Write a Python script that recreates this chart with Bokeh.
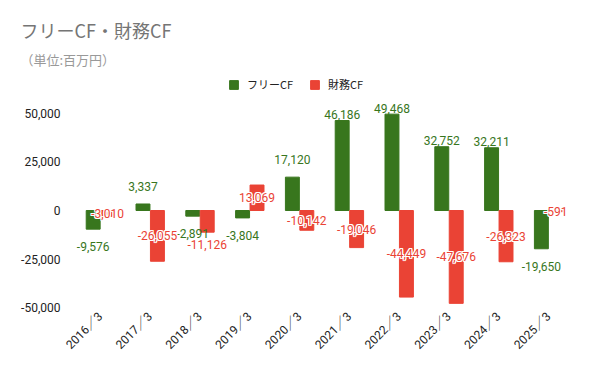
import math
from bokeh.plotting import figure
from bokeh.models import (ColumnDataSource, FixedTicker, NumeralTickFormatter, Title,
                          Legend, LegendItem, Range1d, FactorRange)
from bokeh.core.properties import value
from bokeh.transform import dodge
from bokeh.embed import file_html
from bokeh.resources import INLINE

years = ["2016／3", "2017／3", "2018／3", "2019／3", "2020／3",
         "2021／3", "2022／3", "2023／3", "2024／3", "2025／3"]
free_cf = [-9576, 3337, -2891, -3804, 17120, 46186, 49468, 32752, 32211, -19650]
fin_cf = [-3010, -26055, -11126, 13069, -10142, -19046, -44449, -47676, -26323, -591]
y_ticks = [-50000, -25000, 0, 25000, 50000]

GREEN = "#38761d"
RED = "#ea4335"
FONT_NUM = "Roboto"
FONT_JP = "'Noto Sans CJK JP'"

# plot frame (pixels) and matching value range: zero sits at y=210, 25,000 = 48.7px
W, H = 600, 371
FL, FR, FT, FB = 75, 573, 72, 310
PX_PER = 48.7 / 25000
Y_TOP, Y_BOT = (210 - FT) / PX_PER, -(FB - 210) / PX_PER

# label placement rules (data units)
def green_pos(v):
    if v >= 25000:
        return v + 3000
    return v + 9000 if v >= 0 else v - 9000

green_ly = [green_pos(v) for v in free_cf]
red_ly = []
for g, r in zip(green_ly, fin_cf):
    mid = r / 2
    if abs(g - mid) < 8000:          # would collide with the green label
        red_ly.append(r + (6500 if r >= 0 else -6500))
    else:
        red_ly.append(mid)

fmt = lambda v: f"{v:,}"
src = ColumnDataSource(dict(
    year=years, free=free_cf, fin=fin_cf,
    gly=green_ly, rly=red_ly,
    gtxt=[fmt(v) for v in free_cf], rtxt=[fmt(v) for v in fin_cf],
))

p = figure(x_range=FactorRange(*years), y_range=Range1d(Y_BOT, Y_TOP),
           width=W, height=H, output_backend="svg", toolbar_location=None,
           min_border_left=FL, min_border_right=W - FR, min_border_top=FT,
           min_border_bottom=H - FB)
p.outline_line_color = None
p.grid.visible = False

gbar = p.vbar(x=dodge("year", -0.145, range=p.x_range), top="free", bottom=0,
              width=0.28, color=GREEN, source=src)
rbar = p.vbar(x=dodge("year", 0.145, range=p.x_range), top="fin", bottom=0,
              width=0.28, color=RED, source=src)

p.text(x=dodge("year", -0.145, range=p.x_range), y="gly", text="gtxt", source=src,
       text_align="center", text_baseline="middle", text_color=GREEN,
       text_font=value(FONT_NUM), text_font_size="12px")
# white halo under red labels
for dx, dy in [(-1, -1), (0, -1), (1, -1), (-1, 0), (1, 0), (-1, 1), (0, 1), (1, 1)]:
    p.text(x=dodge("year", 0.145, range=p.x_range), y="rly", text="rtxt", source=src,
           text_align="center", text_baseline="middle", text_color="white",
           text_font=value(FONT_NUM), text_font_size="12px",
           x_offset=dx, y_offset=dy)
p.text(x=dodge("year", 0.145, range=p.x_range), y="rly", text="rtxt", source=src,
       text_align="center", text_baseline="middle", text_color=RED,
       text_font=value(FONT_NUM), text_font_size="12px")

# axes
yax = p.yaxis[0]
yax.ticker = FixedTicker(ticks=y_ticks)
yax.formatter = NumeralTickFormatter(format="0,0")
for ax in (p.xaxis[0], yax):
    ax.axis_line_color = None
    ax.major_tick_line_color = None
    ax.minor_tick_line_color = None
    ax.major_tick_out = 0
    ax.major_tick_in = 0
    ax.minor_tick_out = 0
    ax.major_label_text_color = "#222222"
    ax.major_label_text_font_size = "12px"
    ax.major_label_text_font = "Roboto, 'Noto Sans CJK JP'"
yax.major_label_standoff = 15
p.xaxis[0].major_label_orientation = math.pi / 4
p.xaxis[0].major_label_standoff = 4

legend = Legend(items=[LegendItem(label="フリーCF", renderers=[gbar]),
                       LegendItem(label="財務CF", renderers=[rbar])],
                location=(228 - FL, FB - 92), orientation="horizontal",
                glyph_width=11, glyph_height=11, label_height=11,
                label_standoff=8, spacing=16, padding=0, margin=0,
                border_line_color=None, background_fill_alpha=0,
                label_text_font=FONT_JP, label_text_font_size="11px",
                label_text_color="#222222")
p.add_layout(legend, "center")

p.add_layout(Title(text="（単位:百万円）", align="left", offset=-55, standoff=8,
                   text_font=FONT_JP, text_font_size="13px", text_font_style="normal",
                   text_color="#999999"), "above")
p.add_layout(Title(text="フリーCF・財務CF", align="left", offset=-55, standoff=2,
                   text_font=FONT_JP, text_font_size="18px", text_font_style="normal",
                   text_color="#757575"), "above")

open("out.html", "w").write(file_html(p, INLINE))
